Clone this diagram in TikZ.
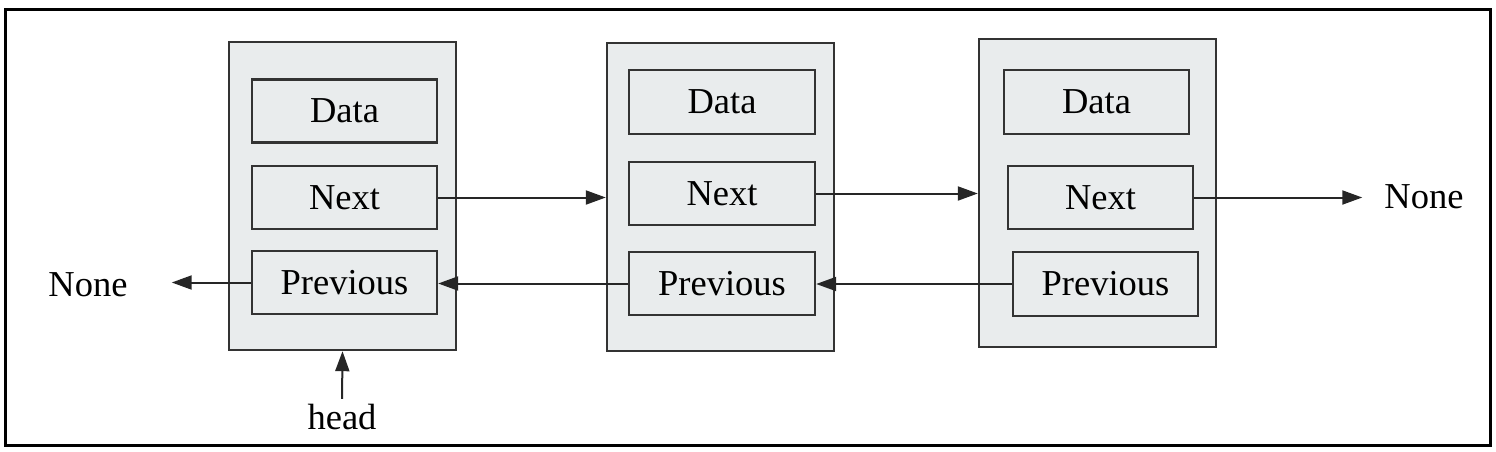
\documentclass[tikz,border=0pt]{standalone}
\usepackage{fontspec}
\setmainfont{Liberation Serif}
\usetikzlibrary{arrows.meta}
\definecolor{cellfill}{HTML}{E9ECED}
\definecolor{lineclr}{HTML}{333333}
\begin{document}
\begin{tikzpicture}[x=1pt,y=-1pt,
  outerbox/.style={draw=lineclr,line width=2.4pt,fill=cellfill,minimum width=227pt,minimum height=308pt,inner sep=0pt},
  cell/.style={draw=lineclr,line width=2.4pt,fill=cellfill,minimum width=185pt,minimum height=63pt,inner sep=0pt,font=\fontsize{36.5}{40}\selectfont},
  lbl/.style={inner sep=0pt,font=\fontsize{36.5}{40}\selectfont},
  conn/.style={draw=black!85,line width=2pt,-{Triangle[length=20pt,width=14pt]}}]
\useasboundingbox (0,0) rectangle (1496,451);
\draw[line width=3pt,black] (5,9) rectangle (1490,445);
% node 1
\node[outerbox] (N1) at (342.5,196) {};
\node[cell] (D1) at (344.5,111) {Data};
\node[cell] (X1) at (344.5,197.5) {Next};
\node[cell] (P1) at (344.5,282.5) {Previous};
% node 2
\node[outerbox] (N2) at (720.5,197) {};
\node[cell,minimum width=186pt,minimum height=64pt] (D2) at (722,102) {Data};
\node[cell,minimum width=186pt] (X2) at (722,193.5) {Next};
\node[cell,minimum width=186pt] (P2) at (722,283.5) {Previous};
% node 3
\node[outerbox,minimum width=237pt] (N3) at (1097.5,193) {};
\node[cell,minimum height=64pt] (D3) at (1096.5,102) {Data};
\node[cell] (X3) at (1100.5,197.5) {Next};
\node[cell,minimum height=64pt] (P3) at (1105.5,284) {Previous};
% labels
\node[lbl] (NoneL) at (88,285) {None};
\node[lbl] (NoneR) at (1424,197) {None};
\node[lbl] (head) at (342,417) {head};
% connectors
\draw[conn] (X1.east) -- (X1.east -| N2.west);
\draw[conn] (X2.east) -- (X2.east -| N3.west);
\draw[conn,shorten >=22pt] (X3.east) -- (X3.east -| NoneR.west);
\draw[conn] (P3.west) -- (P3.west -| P2.east);
\draw[conn] (P2.west) -- (P2.west -| P1.east);
\draw[conn,shorten >=44pt] (P1.west) -- (P1.west -| NoneL.east);
\draw[conn,shorten <=5pt] (head.north) -- (N1.south);
\end{tikzpicture}
\end{document}
